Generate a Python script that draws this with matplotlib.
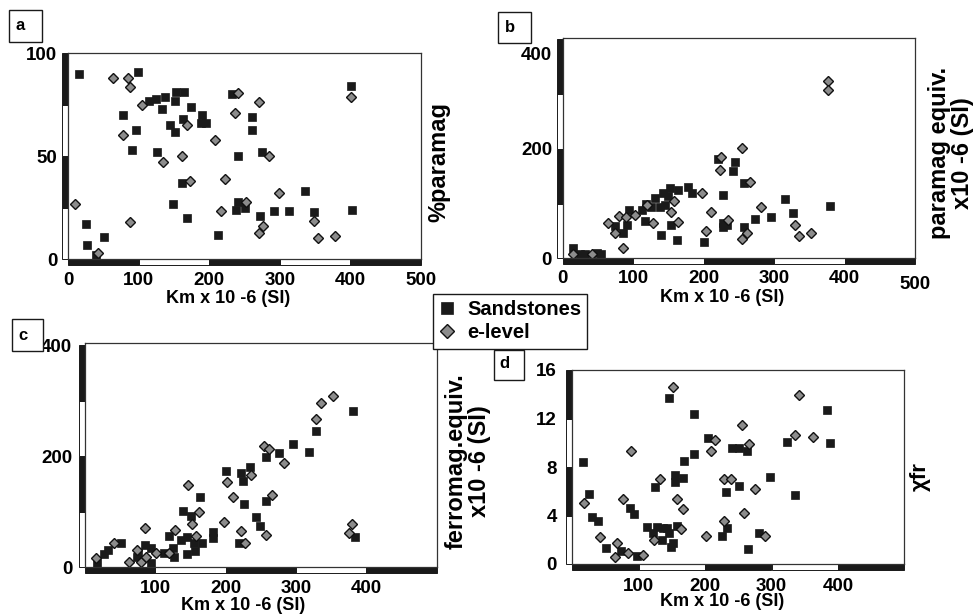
import matplotlib
matplotlib.use('Agg')
import matplotlib.pyplot as plt
from matplotlib.patches import Rectangle
from matplotlib.lines import Line2D
from matplotlib.transforms import blended_transform_factory, ScaledTranslation

plt.rcParams['font.family'] = ['Liberation Sans', 'DejaVu Sans']
plt.rcParams['font.weight'] = 'bold'

W, H = 975, 615

# ---- panel a : %paramag ----
a_sand_x = [15, 99, 77, 96, 91, 115, 125, 137, 133, 144, 152, 153, 164, 152, 163, 174,
            126, 149, 162, 169, 190, 188, 195, 232, 241, 241, 238, 250, 212, 261, 261,
            275, 272, 292, 313, 336, 349, 401, 403, 25, 26, 51, 39]
a_sand_y = [90, 91, 70, 63, 53, 77, 78, 79, 73, 65, 77, 81, 81, 62, 68, 74,
            52, 27, 37, 20, 70, 66, 66, 80, 50, 28, 24, 25, 12, 63, 69,
            52, 21, 23.5, 23.5, 33, 23, 84, 24, 17, 7, 11, 2]
a_elev_x = [10, 42, 64, 84, 88, 77, 88, 104, 135, 161, 169, 173, 208, 223, 216, 236,
            241, 252, 271, 285, 270, 276, 299, 349, 354, 378, 401]
a_elev_y = [27, 3, 88, 88, 83.5, 60.5, 18, 75, 47, 50, 65, 38, 58, 39, 23.5, 71,
            80.5, 28, 76.5, 50, 13, 16, 32, 18.5, 10.5, 11.5, 78.6]

# ---- panel b : paramag equiv. ----
b_sand_x = [14, 24, 32, 48, 54, 74, 86, 91, 94, 112, 117, 118, 126, 131, 138, 145, 143,
            150, 152, 164, 178, 183, 140, 154, 162, 200, 220, 228, 228, 228, 233, 242,
            244, 258, 258, 273, 295, 316, 327, 379]
b_sand_y = [18, 8, 8, 9, 8, 59, 47, 61, 88, 88, 69, 99, 94, 110, 94, 97, 120,
            113, 128, 125, 130, 120, 43, 61, 33, 30, 181, 116, 65, 58, 60, 160,
            176, 138, 57, 71, 76, 108, 82, 96]
b_elev_x = [14, 41, 65, 74, 80, 90, 102, 120, 85, 128, 158, 154, 163, 197, 210, 204,
            224, 223, 235, 255, 261, 255, 266, 282, 330, 335, 353, 377, 377]
b_elev_y = [8, 8, 64, 46, 77, 75, 79, 98, 19, 65, 105, 84, 67, 119, 84, 50,
            185, 161, 70, 201, 47, 35, 140, 93, 61, 41, 46, 323, 307]

# ---- panel c : ferromag equiv. ----
c_sand_x = [17, 27, 33, 52, 85, 94, 94, 75, 74, 112, 120, 126, 127, 137, 140, 146, 146,
            151, 155, 157, 164, 167, 182, 182, 200, 222, 225, 226, 219, 235, 244, 249,
            257, 257, 276, 296, 318, 328, 381, 384]
c_sand_y = [7, 24, 32, 44, 41, 34, 8, 25, 18, 26, 56, 34, 19, 50, 102, 55, 24,
            92, 44, 30, 127, 44, 64, 52, 174, 170, 156, 114, 44, 180, 90, 74,
            198, 120, 206, 223, 208, 246, 282, 55]
c_elev_x = [16, 42, 63, 74, 80, 87, 85, 101, 120, 128, 147, 152, 158, 163, 198, 202,
            210, 222, 227, 236, 254, 262, 266, 257, 283, 328, 335, 353, 379, 376]
c_elev_y = [16, 44, 10, 32, 10, 18, 70, 26, 26, 67, 148, 78, 56, 100, 82, 154,
            127, 66, 44, 166, 219, 214, 130, 58, 188, 267, 297, 309, 78, 62]

# ---- panel d : chi fr ----
d_sand_x = [16, 25, 30, 39, 50, 74, 87, 93, 97, 113, 121, 124, 128, 135, 137, 145, 143,
            145, 148, 152, 154, 155, 157, 167, 168, 184, 183, 204, 232, 233, 226, 240,
            251, 251, 263, 264, 281, 298, 323, 335, 384, 388]
d_sand_y = [8.45, 5.8, 3.87, 3.56, 1.33, 1.08, 4.6, 4.1, 0.7, 3.04, 2.54, 6.33, 3.04, 2.0,
            2.96, 2.54, 2.96, 13.7, 1.44, 1.77, 7.3, 6.77, 3.1, 7.1, 8.5, 9.06, 12.4,
            10.36, 5.9, 3.0, 2.35, 9.56, 9.59, 6.4, 9.28, 1.27, 2.54, 7.18, 10.1, 5.66,
            12.7, 10.0]
d_elev_x = [17, 41, 64, 67, 77, 84, 88, 106, 123, 132, 152, 157, 163, 167, 201, 209,
            215, 228, 239, 228, 256, 258, 266, 275, 290, 336, 342, 362]
d_elev_y = [5.0, 2.2, 0.55, 1.71, 5.4, 0.88, 9.3, 0.75, 2.0, 7.0, 14.6, 5.4, 2.87, 4.56,
            2.27, 9.28, 10.25, 7.04, 7.02, 3.56, 11.46, 4.2, 9.86, 6.19, 2.27, 10.6,
            13.95, 10.5]

SQ = dict(marker='s', ls='none', ms=5.2, mfc='#1a1a1a', mec='#1a1a1a', mew=0.5)
DI = dict(marker='D', ls='none', ms=4.8, mfc='#8c8c8c', mec='#111111', mew=1.0)


def px_rect(l, t, r, b):
    return [l / W, 1 - b / H, (r - l) / W, (b - t) / H]


def scale_bars(ax, xstep, ystep, ymax, w_px, h_px, bar=6):
    bx = blended_transform_factory(ax.transData, ax.transAxes)
    for i, x0 in enumerate(range(0, 500, xstep)):
        fc = '#1a1a1a' if i % 2 == 0 else 'white'
        ax.add_patch(Rectangle((x0, -bar / h_px), xstep, bar / h_px, transform=bx,
                               clip_on=False, fc=fc, ec='#1a1a1a', lw=0.7))
    by = blended_transform_factory(ax.transAxes, ax.transData)
    n = int(round(ymax / ystep))
    for j in range(n):
        fc = '#1a1a1a' if (n - 1 - j) % 2 == 0 else 'white'
        ax.add_patch(Rectangle((-bar / w_px, j * ystep), bar / w_px, ystep, transform=by,
                               clip_on=False, fc=fc, ec='#1a1a1a', lw=0.7))


def panel(rect_px, ylim, yticks, ystep, xticks, sx, sy, ex, ey, xpad, ypad):
    l, t, r, b = rect_px
    ax = fig.add_axes(px_rect(l, t, r, b))
    ax.plot(sx, sy, **SQ)
    ax.plot(ex, ey, **DI)
    ax.set_xlim(0, 500)
    ax.set_ylim(0, ylim)
    ax.set_xticks(xticks)
    ax.set_yticks(yticks)
    ax.tick_params(length=0, labelsize=13.5)
    ax.tick_params(axis='x', pad=xpad)
    ax.tick_params(axis='y', pad=ypad)
    for s in ax.spines.values():
        s.set_linewidth(0.9)
        s.set_color('#333333')
    scale_bars(ax, 100, ystep, yticks[-1], r - l, b - t)
    return ax


def nudge(label, dy_px):
    label.set_transform(label.get_transform() +
                        ScaledTranslation(0, -dy_px / 100, fig.dpi_scale_trans))


fig = plt.figure(figsize=(W / 100, H / 100), dpi=100)

panel((68.3, 53.3, 420.7, 259.3), 100, [0, 50, 100], 25, [0, 100, 200, 300, 400, 500],
      a_sand_x, a_sand_y, a_elev_x, a_elev_y, 9, 8)
axb = panel((562.7, 37.7, 915, 258.3), 403, [0, 200, 400], 100, [0, 100, 200, 300, 400, 500],
            b_sand_x, b_sand_y, b_elev_x, b_elev_y, 8.5, 7.7)
panel((84.7, 342.7, 436.7, 567.3), 405, [0, 200, 400], 100, [100, 200, 300, 400],
      c_sand_x, c_sand_y, c_elev_x, c_elev_y, 9, 9)
panel((572.3, 370, 904.3, 564), 16, [0, 4, 8, 12, 16], 4, [100, 200, 300, 400],
      d_sand_x, d_sand_y, d_elev_x, d_elev_y, 10, 11)

# in panel b the top y label and the last x label sit a little lower
nudge(axb.get_yticklabels()[-1], 14)
nudge(axb.get_xticklabels()[-1], 6)

# axis titles
xl = 'Km x 10 -6 (SI)'
for x, y in [(228, 298), (722, 297), (243, 606), (722, 602)]:
    fig.text(x / W, 1 - y / H, xl, ha='center', va='center', fontsize=13)

fig.text(438.5 / W, 1 - 162 / H, '%paramag', rotation=90, ha='center', va='center',
         fontsize=17)
fig.text(951 / W, 1 - 153 / H, 'paramag equiv.\nx10 -6 (SI)', rotation=90, ha='center',
         va='center', fontsize=17, multialignment='center', linespacing=1.0)
fig.text(468 / W, 1 - 461 / H, 'ferromag.equiv.\nx10 -6 (SI)', rotation=90, ha='center',
         va='center', fontsize=17, multialignment='center', linespacing=1.0)
fig.text(920.5 / W, 1 - 477 / H, 'χfr', rotation=90, ha='center', va='center',
         fontsize=16)

# panel letters in boxes
for lab, (l, t, r, b), (tx, ty) in [('a', (9, 10, 42, 42), (15, 26)),
                                    ('b', (498, 12, 531, 43), (505, 27.5)),
                                    ('c', (12, 319, 43, 351), (18, 335)),
                                    ('d', (494, 350, 524, 380), (499, 363))]:
    fig.add_artist(Rectangle((l / W, 1 - b / H), (r - l) / W, (b - t) / H,
                             transform=fig.transFigure, fc='white', ec='#1a1a1a', lw=1))
    fig.text(tx / W, 1 - ty / H, lab, ha='left', va='center', fontsize=12)

handles = [Line2D([], [], **dict(SQ, ms=8)), Line2D([], [], **dict(DI, ms=7.5))]
leg = fig.legend(handles, ['Sandstones', 'e-level'], loc='upper left',
                 bbox_to_anchor=(432.7 / W, 1 - 294 / H), borderaxespad=0,
                 fontsize=14.5, frameon=True, fancybox=False, edgecolor='#1a1a1a',
                 framealpha=1, handlelength=0.8, handletextpad=0.6, borderpad=0.3,
                 labelspacing=0.22)
leg.get_frame().set_linewidth(1)

fig.savefig('out.png', dpi=100)
